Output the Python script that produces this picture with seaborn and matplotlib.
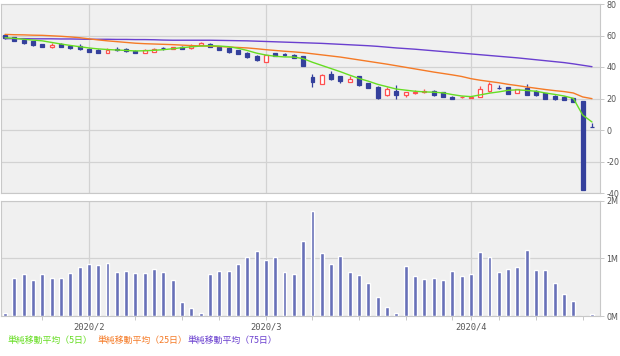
import numpy as np
import pandas as pd
import matplotlib
matplotlib.use("Agg")
import matplotlib.pyplot as plt
import seaborn as sns

# ---------------- data ----------------
opens = [60.1, 58.9, 57.0, 56.3, 54.4, 52.6, 54.9, 53.5, 53.5, 51.6,
         50.8, 49.1, 51.3, 51.6, 50.4, 49.1, 49.5, 52.0, 51.4, 52.9,
         51.9, 54.2, 54.6, 52.9, 52.1, 50.6, 49.1, 47.0, 43.4, 48.7,
         48.0, 47.9, 47.0, 33.4, 29.2, 35.5, 34.3, 30.5, 34.3, 29.6,
         27.5, 22.0, 25.0, 22.0, 23.8, 24.3, 24.8, 23.9, 21.2, 20.9,
         20.5, 21.2, 24.6, 26.8, 27.1, 23.7, 26.7, 25.0, 23.3, 21.6,
         21.2, 20.3, 18.2, 2.2]
closes = [58.4, 56.7, 55.2, 53.8, 52.7, 54.2, 52.9, 51.9, 51.2, 49.7,
          49.1, 51.0, 51.0, 50.0, 49.1, 50.8, 51.4, 51.8, 52.7, 51.6,
          53.3, 55.2, 52.9, 50.8, 49.5, 48.3, 46.2, 44.2, 47.4, 47.0,
          47.8, 45.7, 40.6, 30.5, 35.1, 32.2, 31.3, 32.6, 28.4, 26.7,
          20.1, 25.8, 22.0, 24.1, 24.0, 24.5, 22.0, 21.0, 19.9, 21.1,
          21.0, 25.8, 29.0, 26.6, 22.9, 25.8, 22.4, 22.0, 19.9, 19.5,
          19.3, 17.8, -38.0, 2.0]
highs = [60.5, 59.3, 57.5, 56.6, 54.8, 55.0, 55.3, 54.2, 54.5, 52.0,
         51.5, 52.0, 52.5, 52.0, 50.9, 51.2, 52.2, 52.8, 53.0, 53.3,
         54.6, 55.8, 55.2, 53.3, 52.5, 51.0, 49.6, 47.5, 47.6, 49.2,
         48.7, 48.3, 47.3, 35.5, 35.4, 37.2, 34.6, 34.3, 34.6, 30.0,
         27.8, 27.5, 28.4, 24.4, 25.2, 25.8, 25.5, 24.4, 21.5, 21.8,
         21.3, 27.9, 30.5, 28.8, 27.5, 26.2, 29.2, 25.5, 23.7, 22.0,
         21.5, 20.6, 18.5, 4.5]
lows = [58.0, 56.3, 54.8, 53.5, 52.4, 52.3, 52.6, 51.6, 50.8, 49.4,
        48.8, 48.9, 50.0, 49.7, 48.8, 48.9, 49.3, 51.0, 51.2, 51.3,
        51.7, 54.0, 52.6, 50.5, 49.2, 48.0, 45.8, 43.8, 43.2, 46.7,
        47.2, 45.4, 40.4, 27.5, 29.0, 32.0, 29.6, 30.3, 28.2, 26.4,
        19.9, 21.8, 19.5, 21.0, 22.6, 23.2, 21.8, 20.7, 19.6, 20.2,
        20.3, 21.0, 24.4, 25.8, 22.6, 23.5, 22.2, 21.8, 19.7, 19.3,
        19.1, 17.5, -38.3, 1.8]
volume_m = [0.06, 0.65, 0.73, 0.62, 0.73, 0.66, 0.65, 0.74, 0.84, 0.90,
            0.88, 0.92, 0.77, 0.78, 0.74, 0.74, 0.81, 0.77, 0.63, 0.24,
            0.13, 0.05, 0.73, 0.78, 0.78, 0.90, 1.03, 1.13, 0.97, 1.03,
            0.77, 0.73, 1.30, 1.81, 1.09, 0.90, 1.04, 0.77, 0.71, 0.57,
            0.33, 0.16, 0.05, 0.87, 0.69, 0.64, 0.66, 0.63, 0.78, 0.69,
            0.73, 1.11, 1.03, 0.77, 0.81, 0.84, 1.14, 0.80, 0.80, 0.57,
            0.38, 0.26, 0.0, 0.03]
ma5 = [58.6, 58.2, 57.6, 57.1, 56.6, 55.6, 54.6, 53.7, 52.9, 52.1,
       51.5, 51.1, 50.8, 50.5, 50.2, 50.3, 50.6, 51.0, 51.6, 52.3,
       52.8, 53.3, 53.5, 53.3, 52.9, 51.9, 50.5, 48.8, 47.6, 46.8,
       46.4, 46.3, 45.3, 43.0, 41.0, 39.0, 37.0, 34.8, 32.7, 31.0,
       29.0, 27.5, 26.0, 25.3, 24.6, 24.2, 24.0, 23.6, 22.5, 21.6,
       21.2, 22.3, 23.4, 24.2, 25.2, 25.5, 25.1, 24.6, 23.5, 22.6,
       21.6, 20.1, 9.5, 5.1]
ma25 = [60.7, 60.5, 60.4, 60.2, 60.1, 59.8, 59.5, 59.1, 58.6, 57.9,
        57.2, 56.6, 56.1, 55.6, 55.1, 54.8, 54.6, 54.4, 54.2, 53.9,
        53.6, 53.4, 53.2, 53.0, 52.7, 52.4, 52.1, 51.6, 51.0, 50.5,
        50.0, 49.6, 49.1, 48.4, 47.7, 47.0, 46.3, 45.4, 44.5, 43.6,
        42.7, 41.8, 40.8, 39.8, 38.8, 37.8, 36.8, 35.9, 35.0, 34.0,
        32.6, 31.6, 30.8, 30.0, 29.0, 28.2, 27.3, 26.5, 25.7, 25.0,
        24.4, 23.5, 21.0, 19.9]
ma75 = [58.0, 58.0, 58.0, 57.9, 57.9, 57.9, 57.8, 57.8, 57.7, 57.6,
        57.6, 57.6, 57.5, 57.5, 57.4, 57.4, 57.3, 57.1, 57.0, 57.0,
        57.0, 57.0, 57.0, 56.9, 56.8, 56.7, 56.6, 56.4, 56.2, 56.0,
        55.8, 55.6, 55.4, 55.2, 55.0, 54.7, 54.4, 54.1, 53.8, 53.5,
        53.1, 52.6, 52.1, 51.7, 51.3, 50.8, 50.3, 49.8, 49.3, 48.8,
        48.3, 47.8, 47.3, 46.8, 46.3, 45.8, 45.2, 44.6, 44.0, 43.4,
        42.8, 42.0, 41.1, 40.2]
month_pos = [9, 28, 50]
month_labels = ["2020/2", "2020/3", "2020/4"]
week_pos = [4, 14, 19, 23, 33, 38, 43, 48, 53, 57, 62]
price_ticks = [-40, -20, 0, 20, 40, 60, 80]
vol_ticks = [0, 1, 2]
vol_labels = ["0M", "1M", "2M"]
legend_labels = ["単純移動平均（5日）", "単純移動平均（25日）", "単純移動平均（75日）"]

# ---------------- style ----------------
sns.set_theme(style="white")
plt.rcParams['font.family'] = ['DejaVu Sans', 'Noto Sans CJK JP']

BG = "#f0f0f0"
GRID = "#d2d2d2"
SPINE = "#c8c8c8"
TXT = "#555555"
BLUE = "#34409c"
RED = "#ff5050"
VOLC = "#6870b8"
GREEN = "#66dd22"
ORANGE = "#f57a26"
PURPLE = "#6a3fcf"

n = len(opens)
idx = np.arange(n)
o = np.array(opens); c = np.array(closes)
h = np.array(highs); l = np.array(lows)

fig = plt.figure(figsize=(6.2, 3.56), dpi=100)
ax1 = fig.add_axes([1/620, 1-193/356, 599/620, 189/356])
ax2 = fig.add_axes([1/620, 1-316/356, 599/620, 115.5/356])

for ax in (ax1, ax2):
    ax.set_facecolor(BG)
    for s in ax.spines.values():
        s.set_color(SPINE)
        s.set_linewidth(0.8)
    ax.set_axisbelow(True)

# ---- candles ----
up = c >= o
col = np.where(up, RED, BLUE)
ax1.vlines(idx, l, h, colors=col, linewidth=0.9, zorder=2)
bottoms = np.minimum(o, c)
heights = np.maximum(np.abs(c - o), 0.15)
ax1.bar(idx, heights, bottom=bottoms, width=0.42,
        color=np.where(up, "#ffffff", BLUE), edgecolor=col,
        linewidth=0.9, zorder=3)

# ---- moving averages ----
ma_df = pd.DataFrame({"i": idx, "ma5": ma5, "ma25": ma25, "ma75": ma75})
sns.lineplot(data=ma_df, x="i", y="ma75", ax=ax1, color=PURPLE, linewidth=1.0, zorder=4)
sns.lineplot(data=ma_df, x="i", y="ma25", ax=ax1, color=ORANGE, linewidth=1.0, zorder=4)
sns.lineplot(data=ma_df, x="i", y="ma5", ax=ax1, color=GREEN, linewidth=1.0, zorder=5)

ax1.set_xlim(-0.43, 63.86)
ax1.set_ylim(-40, 80)
ax1.set_xlabel(""); ax1.set_ylabel("")
ax1.yaxis.tick_right()
ax1.set_yticks(price_ticks)
ax1.set_yticklabels([str(t) for t in price_ticks])
ax1.tick_params(axis="y", right=True, length=3, width=0.7, color=SPINE,
                labelsize=5.8, labelcolor=TXT, pad=1.5)
ax1.set_xticks(month_pos)
ax1.tick_params(axis="x", bottom=False, labelbottom=False)
ax1.grid(True, color=GRID, linewidth=0.9)

# ---- volume ----
vol_df = pd.DataFrame({"i": idx, "v": volume_m})
sns.barplot(data=vol_df, x="i", y="v", ax=ax2, native_scale=True,
            color=VOLC, width=0.42, saturation=1, zorder=3)
ax2.set_xlim(-0.43, 63.86)
ax2.set_ylim(0, 2)
ax2.set_xlabel(""); ax2.set_ylabel("")
ax2.yaxis.tick_right()
ax2.set_yticks(vol_ticks)
ax2.set_yticklabels(vol_labels)
ax2.tick_params(axis="y", right=True, length=3, width=0.7, color=SPINE,
                labelsize=5.8, labelcolor=TXT, pad=1.5)
ax2.set_xticks(month_pos)
ax2.set_xticklabels(month_labels, family=['DejaVu Sans Mono'])
ax2.set_xticks(week_pos, minor=True)
ax2.tick_params(axis="x", which="both", bottom=True, length=3, width=0.7,
                color=SPINE, labelsize=6.3, labelcolor=TXT, pad=2)
ax2.grid(True, which="major", color=GRID, linewidth=0.9)

# ---- legend (coloured texts) ----
lx = [8, 97, 188]
lcol = [GREEN, ORANGE, PURPLE]
for x, t, cc in zip(lx, legend_labels, lcol):
    fig.text(x/620, 1-340.7/356, t, color=cc, fontsize=6.4, va="center", ha="left",
             family=['Noto Sans CJK JP', 'DejaVu Sans'])

fig.savefig("out.png", dpi=100, facecolor="white")
